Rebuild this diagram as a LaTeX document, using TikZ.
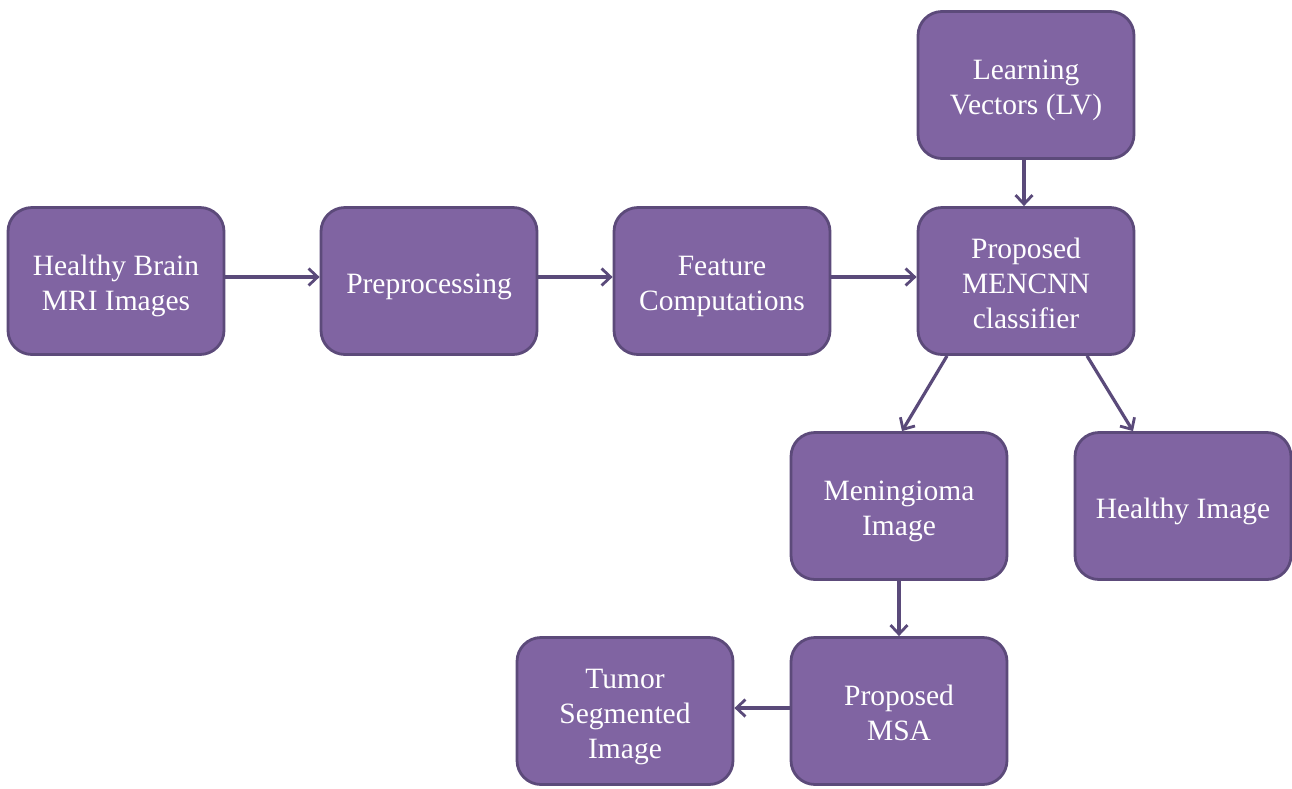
\documentclass[tikz,border=0pt]{standalone}
\usepackage{fontspec}
\setmainfont{Liberation Serif}
\usetikzlibrary{arrows.meta,calc}
\definecolor{boxfill}{HTML}{8064A2}
\definecolor{boxline}{HTML}{5C4A7A}
\definecolor{arrowc}{HTML}{5A4A7A}
\newcommand\bt[1]{\raisebox{-5pt}[\height][\depth]{\begin{tabular}{@{}c@{}}#1\end{tabular}}}
\tikzset{
  box/.style={draw=boxline, line width=2.8pt, fill=boxfill, rounded corners=24pt,
    minimum width=216pt, minimum height=147pt, text=white,
    font=\fontsize{29.5}{35}\selectfont, inner sep=0pt},
  conn/.style={draw=arrowc, line width=3.2pt, -{Straight Barb[length=9pt,width=17pt,line width=2.8pt]}}
}
\begin{document}
\begin{tikzpicture}[x=1pt,y=-1pt]
\useasboundingbox (0,0) rectangle (1292,788);
\node[box] (hb) at (116,281) {\bt{Healthy Brain\\MRI Images}};
\node[box] (pre) at (429,281) {\bt{Preprocessing}};
\node[box] (fc) at (722,281) {\bt{Feature\\Computations}};
\node[box] (cls) at (1026,281) {\bt{Proposed\\MENCNN\\classifier}};
\node[box] (lv) at (1026,85) {\bt{Learning\\Vectors (LV)}};
\node[box] (men) at (899,506) {\bt{Meningioma\\Image}};
\node[box] (hi) at (1183,506) {\bt{Healthy Image}};
\node[box] (msa) at (899,711) {\bt{Proposed\\MSA}};
\node[box] (tsi) at (625,711) {\bt{Tumor\\Segmented\\Image}};
\draw[conn] ($(hb.east)+(0,-4)$) -- ($(pre.west)+(0,-4)$);
\draw[conn] ($(pre.east)+(0,-4)$) -- ($(fc.west)+(0,-4)$);
\draw[conn] ($(fc.east)+(0,-4)$) -- ($(cls.west)+(0,-4)$);
\draw[conn] ($(lv.south)+(-2,0)$) -- ($(cls.north)+(-2,0)$);
\draw[conn] ($(cls.south)+(-79,0)$) -- ($(men.north)+(3,0)$);
\draw[conn] ($(cls.south)+(61,0)$) -- ($(hi.north)+(-50,0)$);
\draw[conn] (men.south) -- (msa.north);
\draw[conn] ($(msa.west)+(0,-3)$) -- ($(tsi.east)+(0,-3)$);
\end{tikzpicture}
\end{document}
